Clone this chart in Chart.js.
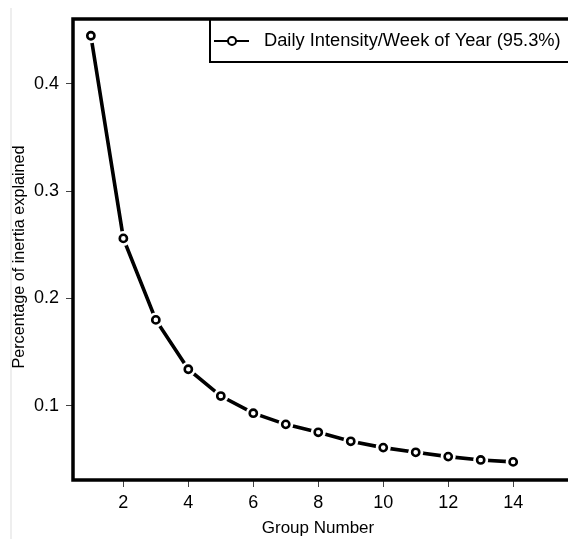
<!DOCTYPE html>
<html>
<head>
<meta charset="utf-8">
<script src="https://cdn.jsdelivr.net/npm/chart.js@4"></script>
<style>
  html, body { margin: 0; padding: 0; background: #fff; }
  #wrap { width: 568px; height: 539px; overflow: hidden; position: relative; }
  #wrap::before { content: ''; position: absolute; left: 10px; top: 8px; width: 2px; bottom: 0; background: #eeeeee; }
</style>
</head>
<body>
<div id="wrap"><canvas id="myChart" width="610" height="539"></canvas></div>
<script>
(() => {
  'use strict'

  const groups = [1, 2, 3, 4, 5, 6, 7, 8, 9, 10, 11, 12, 13, 14]
  const inertia = [0.445, 0.256, 0.180, 0.134, 0.109, 0.093, 0.0826, 0.0752, 0.0668, 0.0609, 0.0565, 0.0525, 0.0494, 0.0476]
  const xTicks = [2, 4, 6, 8, 10, 12, 14]
  const yTicks = [0.1, 0.2, 0.3, 0.4]
  const seriesLabel = 'Daily Intensity/Week of Year (95.3%)'
  const xTitle = 'Group Number'
  const yTitle = 'Percentage of inertia explained'

  const font = '"Liberation Sans", Arial, Helvetica, sans-serif'
  const points = groups.map((g, i) => ({ x: g, y: inertia[i] }))

  // frame, legend box and axis titles
  const decor = {
    id: 'decor',
    afterDraw (chart) {
      const { ctx, chartArea: a } = chart
      ctx.save()
      // legend
      ctx.fillStyle = '#fff'
      ctx.fillRect(210, a.top, 420, 43)
      ctx.strokeStyle = '#000'
      ctx.lineWidth = 2
      ctx.strokeRect(210, a.top, 420, 43)
      ctx.beginPath()
      ctx.moveTo(214, 41)
      ctx.lineTo(249, 41)
      ctx.stroke()
      ctx.beginPath()
      ctx.arc(232, 41, 4, 0, Math.PI * 2)
      ctx.fillStyle = '#fff'
      ctx.fill()
      ctx.lineWidth = 2
      ctx.stroke()
      ctx.fillStyle = '#000'
      ctx.font = '18.3px ' + font
      ctx.textBaseline = 'middle'
      ctx.textAlign = 'left'
      ctx.fillText(chart.data.datasets[0].label, 264, 41)
      // frame
      ctx.lineWidth = 3.5
      ctx.strokeRect(a.left, a.top, a.right - a.left + 10, a.bottom - a.top)
      // titles
      ctx.font = '17px ' + font
      ctx.textAlign = 'center'
      ctx.fillText(xTitle, 318, 528)
      ctx.font = '16.2px ' + font
      ctx.translate(20, 257)
      ctx.rotate(-Math.PI / 2)
      ctx.fillText(yTitle, 0, 0)
      ctx.restore()
    }
  }

  const tickStyle = {
    display: true,
    drawOnChartArea: false,
    drawTicks: true,
    tickLength: 7,
    color: '#444',
    lineWidth: 1
  }

  // eslint-disable-next-line no-unused-vars
  const myChart = new Chart(document.getElementById('myChart'), {
    type: 'line',
    data: {
      datasets: [{
        label: seriesLabel,
        data: points,
        borderColor: '#000',
        borderWidth: 3.6,
        pointRadius: 0,
        tension: 0,
        order: 3
      }, {
        data: points,
        showLine: false,
        pointRadius: 7.5,
        pointBorderWidth: 0,
        pointBackgroundColor: '#fff',
        order: 2
      }, {
        data: points,
        showLine: false,
        pointRadius: 3.6,
        pointBorderWidth: 2.6,
        pointBorderColor: '#000',
        pointBackgroundColor: '#fff',
        order: 1
      }]
    },
    options: {
      responsive: false,
      animation: false,
      layout: { padding: { top: 19, left: 0, right: 0, bottom: 0 } },
      plugins: {
        legend: { display: false },
        tooltip: { enabled: false }
      },
      scales: {
        x: {
          type: 'linear',
          min: 0.45,
          max: 16.75,
          afterBuildTicks: s => { s.ticks = xTicks.map(v => ({ value: v })) },
          afterFit: s => { s.height = 59 },
          grid: tickStyle,
          border: { display: false },
          ticks: { color: '#000', padding: 5, font: { family: font, size: 18 }, maxRotation: 0 }
        },
        y: {
          min: 0.0307,
          max: 0.4606,
          afterBuildTicks: s => { s.ticks = yTicks.map(v => ({ value: v })) },
          afterFit: s => { s.width = 73 },
          grid: tickStyle,
          border: { display: false },
          ticks: { color: '#000', padding: 7, font: { family: font, size: 18 }, callback: v => v.toFixed(1) }
        }
      }
    },
    plugins: [decor]
  })
})()
</script>
</body>
</html>
